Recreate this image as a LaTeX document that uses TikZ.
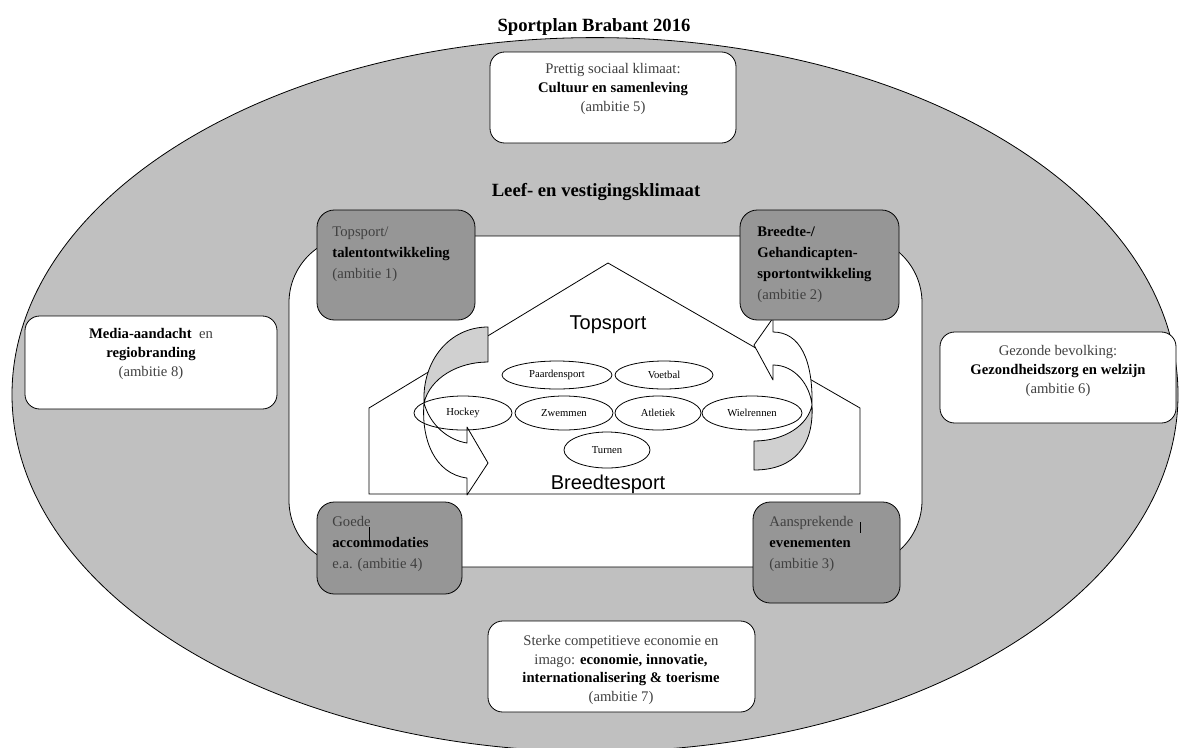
\documentclass[tikz,border=0pt]{standalone}
\usepackage{fontspec}
\setmainfont{Liberation Serif}
\newfontfamily\arialfont{Liberation Sans}
\usetikzlibrary{shapes.geometric}
\definecolor{outergray}{HTML}{C0C0C0}
\definecolor{boxgray}{HTML}{969696}
\definecolor{bandgray}{HTML}{D0D0D0}
\definecolor{txtgray}{HTML}{404040}
\begin{document}
\begin{tikzpicture}[x=0.75pt,y=-0.75pt,line width=0.6pt,
  wbox/.style={draw,fill=white,rounded corners=11pt,inner sep=0pt},
  dbox/.style={draw,fill=boxgray,rounded corners=13pt,inner sep=0pt},
  wtext/.style={align=center,inner sep=0pt,text=txtgray,font=\fontsize{11}{14}\selectfont},
  dtext/.style={align=left,inner sep=0pt,anchor=north west,text=txtgray,font=\fontsize{11}{15.75}\selectfont},
  sport/.style={draw,ellipse,inner sep=0pt,font=\fontsize{8}{9}\selectfont},
  bigtitle/.style={inner sep=0pt,font=\bfseries\fontsize{14}{16}\selectfont},
  sanslabel/.style={inner sep=0pt,font=\arialfont\fontsize{15}{18}\selectfont},
  band/.style={draw,fill=bandgray,line join=round},
  front/.style={draw,fill=white,line join=round}]
\useasboundingbox (0,0) rectangle (1180,747);

% outer ellipse
\node[draw,ellipse,fill=outergray,inner sep=0pt,minimum width=874.5pt,minimum height=535.5pt] (plan) at (595,394.6) {};
\node[bigtitle] (title) at (594,27) {Sportplan Brabant 2016};

% white boxes
\node[wbox,minimum width=184.5pt,minimum height=68.25pt] (topbox) at (613,97.5) {};
\node[wtext] (toptext) at (613,89) {Prettig sociaal klimaat:\\\textcolor{black}{\textbf{Cultuur en samenleving}}\\(ambitie 5)};

\node[wbox,minimum width=189pt,minimum height=69.75pt] (leftbox) at (151,362.5) {};
\node[wtext] (lefttext) at (151,354) {\textcolor{black}{\textbf{Media-aandacht}}\ \ en\\\textcolor{black}{\textbf{regiobranding}}\\(ambitie 8)};

\node[wbox,minimum width=177pt,minimum height=68.25pt] (rightbox) at (1058,377.5) {};
\node[wtext] (righttext) at (1058,371) {Gezonde bevolking:\\\textcolor{black}{\textbf{Gezondheidszorg en welzijn}}\\(ambitie 6)};

\node[wbox,minimum width=200.25pt,minimum height=68.25pt] (botbox) at (621.5,666.5) {};
\node[wtext] (bottext) at (621,670) {Sterke competitieve economie en\\imago: \textcolor{black}{\textbf{economie, innovatie,}}\\\textcolor{black}{\textbf{internationalisering \& toerisme}}\\(ambitie 7)};

\node[bigtitle] (leef) at (596,192) {Leef- en vestigingsklimaat};

% inner white area
\node[draw,fill=white,rounded corners=50pt,inner sep=0pt,minimum width=474.75pt,minimum height=248.25pt] (inner) at (605.5,401.5) {};

% house
\draw (369,494) -- (369,408) -- (608,263) -- (860,408) -- (860,494) -- cycle;

% left curved arrow
\draw[band] (488,327) -- (488,362) .. controls (458,362) and (430,378) .. (424,403)
  .. controls (422,360) and (450,327) .. (488,327) -- cycle;
\draw[front] (424,403) .. controls (421,440) and (435,474) .. (467,478) -- (467,495) -- (488,463)
  -- (467,427) -- (467,443) .. controls (448,440) and (430,425) .. (424,403) -- cycle;

% right curved arrow
\draw[band] (812,405) .. controls (814,445) and (795,470) .. (754,470) -- (754,441)
  .. controls (785,441) and (808,425) .. (812,405) -- cycle;
\draw[front] (754,345) -- (773,318) -- (773,332) .. controls (800,332) and (813,360) .. (812,405)
  .. controls (810,385) and (795,365) .. (773,365) -- (773,380) -- cycle;

% sports
\node[sport,minimum width=82.5pt,minimum height=21pt] (paard) at (557,375) {Paardensport};
\node[sport,minimum width=73.5pt,minimum height=21pt] (voetbal) at (664,375) {Voetbal};
\node[sport,minimum width=73.5pt,minimum height=25.5pt] (hockey) at (463,413) {Hockey};
\node[sport,minimum width=73.5pt,minimum height=25.5pt] (zwemmen) at (564,413) {Zwemmen};
\node[sport,minimum width=64.5pt,minimum height=25.5pt] (atletiek) at (658,413) {Atletiek};
\node[sport,minimum width=75pt,minimum height=25.5pt] (wiel) at (752,413) {Wielrennen};
\node[sport,minimum width=64.5pt,minimum height=27pt] (turnen) at (607,450) {Turnen};

\node[sanslabel] (topsport) at (608,325) {Topsport};
\node[sanslabel] (breedte) at (608,484) {Breedtesport};

% dark boxes
\node[dbox,minimum width=118.5pt,minimum height=82.5pt] (tl) at (396,265) {};
\node[dtext] (tltext) at (332,226) {Topsport/\\\textcolor{black}{\textbf{talentontwikkeling}}\\(ambitie 1)};

\node[dbox,minimum width=119.25pt,minimum height=82.5pt] (tr) at (819.5,265) {};
\node[dtext] (trtext) at (757,226) {\textcolor{black}{\textbf{Breedte-/}}\\\textcolor{black}{\textbf{Gehandicapten-}}\\\textcolor{black}{\textbf{sportontwikkeling}}\\(ambitie 2)};

\node[dbox,minimum width=108.75pt,minimum height=69pt] (bl) at (389.5,548) {};
\node[dtext] (bltext) at (332,516) {Goede\\\textcolor{black}{\textbf{accommodaties}}\\e.a. (ambitie 4)};

\node[dbox,minimum width=110.25pt,minimum height=75.75pt] (br) at (826.5,552.5) {};
\node[dtext] (brtext) at (769,516) {Aansprekende\\\textcolor{black}{\textbf{evenementen}}\\(ambitie 3)};

% small marks
\draw[line width=0.5pt] (369,527) -- (369,542);
\draw[line width=0.5pt] (860,522) -- (860,533);
\end{tikzpicture}
\end{document}
